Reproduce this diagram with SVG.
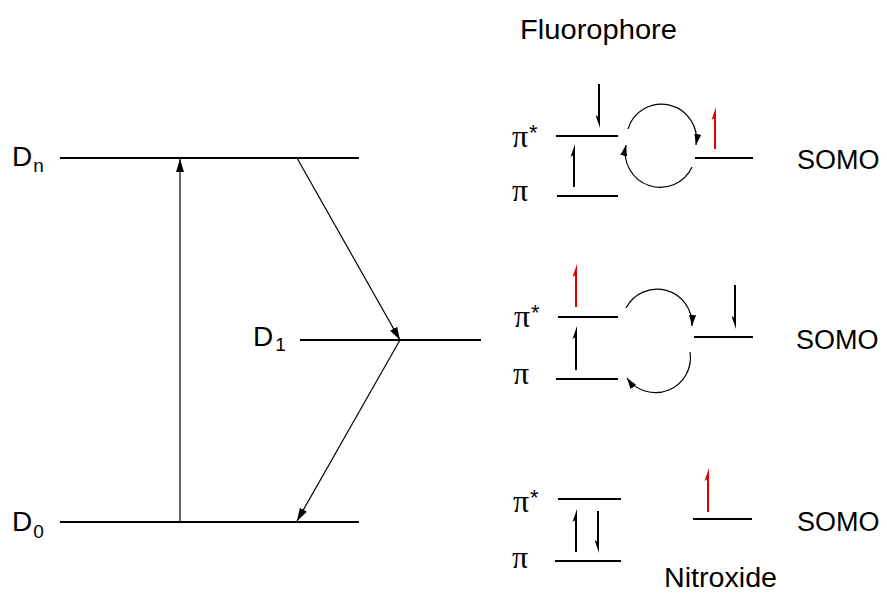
<svg xmlns="http://www.w3.org/2000/svg" width="887" height="594" viewBox="0 0 887 594">
<style>
.lvl{stroke:#000;stroke-width:2;fill:none}
.con{stroke:#000;stroke-width:1.2;fill:none}
.cur{stroke:#000;stroke-width:1.2;fill:none}
.e{stroke:#000;stroke-width:2;fill:none}
.er{stroke:#e00000;stroke-width:2;fill:none}
.hb{fill:#000}
.hr{fill:#e00000}
.t{font-family:"Liberation Sans",Arial,sans-serif;font-size:27px;fill:#000}
.d{font-family:"Liberation Sans",Arial,sans-serif;font-size:28px;fill:#000}
.sub{font-family:"Liberation Sans",Arial,sans-serif;font-size:19px;fill:#000}
.pi{font-family:"Liberation Serif","Times New Roman",serif;font-size:32px;fill:#000}
.ast{font-family:"Liberation Sans",Arial,sans-serif;font-size:22px;fill:#000}
</style>
<defs>
<marker id="ah" markerUnits="userSpaceOnUse" markerWidth="13" markerHeight="10" viewBox="0 0 13 10" refX="13" refY="5" orient="auto">
<path d="M0,1 L13,5 L0,9 z" fill="#000"/>
</marker>
<marker id="ahc" markerUnits="userSpaceOnUse" markerWidth="11" markerHeight="8" viewBox="0 0 11 8" refX="11" refY="4" orient="auto">
<path d="M0,0.5 L11,4 L0,7.5 z" fill="#000"/>
</marker>
</defs>
<rect width="887" height="594" fill="#fff"/>

<g id="Dn">
<line class="lvl" x1="60" y1="158" x2="359" y2="158"/>
<text class="d" x="12" y="166">D<tspan class="sub" dx="1" y="172">n</tspan></text>
</g>
<g id="D1">
<line class="lvl" x1="300" y1="340" x2="481" y2="340"/>
<text class="d" x="253" y="346">D<tspan class="sub" dx="2" y="351">1</tspan></text>
</g>
<g id="D0">
<line class="lvl" x1="60" y1="522" x2="359" y2="522"/>
<text class="d" x="12" y="531">D<tspan class="sub" dx="1" y="538">0</tspan></text>
</g>

<g id="connectors">
<line class="con" x1="180" y1="522" x2="180" y2="159" marker-end="url(#ah)"/>
<line class="con" x1="297" y1="158" x2="400" y2="340" marker-end="url(#ah)"/>
<line class="con" x1="400" y1="340" x2="297" y2="521" marker-end="url(#ah)"/>
</g>

<g id="title-fluorophore">
<text class="t" x="520" y="39" textLength="157" lengthAdjust="spacingAndGlyphs">Fluorophore</text>
</g>

<g id="top-fluorophore">
<line class="lvl" x1="556" y1="136" x2="618" y2="136"/>
<line class="lvl" x1="557" y1="196" x2="618" y2="196"/>
<text class="pi" x="512" y="147">π</text>
<text class="ast" x="529" y="140">*</text>
<text class="pi" x="512" y="201">π</text>
<line class="e" x1="574" y1="187" x2="574" y2="150"/>
<path class="hb" d="M575,144 L570.5,157 L575,154 z"/>
<line class="e" x1="599" y1="84" x2="599" y2="120"/>
<path class="hb" d="M600,128 L595.5,115 L600,118 z"/>
</g>
<g id="top-somo">
<line class="lvl" x1="695" y1="158" x2="753" y2="158"/>
<line class="er" x1="715" y1="149" x2="715" y2="114"/>
<path class="hr" d="M716,107 L711.5,120 L716,117 z"/>
<text class="t" x="797" y="169">SOMO</text>
</g>
<g id="top-transfer">
<path class="cur" d="M628,129 A35,35 0 0 1 696,145" marker-end="url(#ahc)"/>
<path class="cur" d="M692,167 A35,35 0 0 1 626,145" marker-end="url(#ahc)"/>
</g>

<g id="mid-fluorophore">
<line class="lvl" x1="558" y1="317" x2="618" y2="317"/>
<line class="lvl" x1="556" y1="379" x2="618" y2="379"/>
<text class="pi" x="514" y="327">π</text>
<text class="ast" x="531" y="320">*</text>
<text class="pi" x="513" y="384">π</text>
<line class="e" x1="576" y1="370" x2="576" y2="333"/>
<path class="hb" d="M577,326 L572.5,339 L577,336 z"/>
<line class="er" x1="576" y1="307" x2="576" y2="271"/>
<path class="hr" d="M577,264 L572.5,277 L577,274 z"/>
</g>
<g id="mid-somo">
<line class="lvl" x1="694" y1="337" x2="753" y2="337"/>
<line class="e" x1="735" y1="285" x2="735" y2="321"/>
<path class="hb" d="M736,329 L731.5,316 L736,319 z"/>
<text class="t" x="796" y="349">SOMO</text>
</g>
<g id="mid-transfer">
<path class="cur" d="M626,308 A35,35 0 0 1 692,326" marker-end="url(#ahc)"/>
<path class="cur" d="M690,352 A35,35 0 0 1 627,378" marker-end="url(#ahc)"/>
</g>

<g id="bot-fluorophore">
<line class="lvl" x1="558" y1="499" x2="621" y2="499"/>
<line class="lvl" x1="555" y1="561" x2="621" y2="561"/>
<text class="pi" x="513" y="512">π</text>
<text class="ast" x="530" y="505">*</text>
<text class="pi" x="512" y="568">π</text>
<line class="e" x1="576" y1="552" x2="576" y2="516"/>
<path class="hb" d="M577,509 L572.5,522 L577,519 z"/>
<line class="e" x1="598" y1="511" x2="598" y2="546"/>
<path class="hb" d="M599,553 L594.5,540 L599,543 z"/>
</g>
<g id="bot-somo">
<line class="lvl" x1="693" y1="519" x2="752" y2="519"/>
<line class="er" x1="708" y1="512" x2="708" y2="475"/>
<path class="hr" d="M709,468 L704.5,481 L709,478 z"/>
<text class="t" x="797" y="531">SOMO</text>
</g>

<g id="title-nitroxide">
<text class="t" x="664" y="587" textLength="113" lengthAdjust="spacingAndGlyphs">Nitroxide</text>
</g>
</svg>
